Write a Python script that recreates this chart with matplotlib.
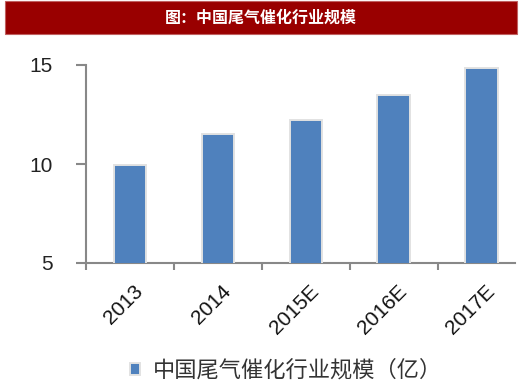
import matplotlib
matplotlib.use('Agg')
import matplotlib.pyplot as plt
from matplotlib.patches import Rectangle

plt.rcParams['font.family'] = ['Liberation Sans', 'Noto Sans CJK SC', 'DejaVu Sans']

# Data
years = ['2013', '2014', '2015E', '2016E', '2017E']
market_size = [9.95, 11.5, 12.2, 13.5, 14.85]
y_ticks = [5, 10, 15]

title = '图：中国尾气催化行业规模'
series_name = '中国尾气催化行业规模（亿）'

W, H = 520, 392
fig = plt.figure(figsize=(W / 100, H / 100), dpi=100)

# red title band
fig.patches.append(Rectangle((5 / W, 1 - 34 / H), 512 / W, 33 / H,
                             transform=fig.transFigure, facecolor='#990000',
                             edgecolor='#c06060', linewidth=0.8))
fig.text(261 / W, 1 - 18 / H, title, color='white', fontsize=11.5,
         fontweight='bold', ha='center', va='center',
         family=['Noto Sans CJK SC', 'DejaVu Sans'])

ax = fig.add_axes([86 / W, 1 - 263 / H, (515 - 86) / W, (263 - 65) / H])
x = range(len(years))
bars = ax.bar(x, market_size, width=0.37, color='#4F81BD',
              edgecolor='#e2e2e2', linewidth=1.4, label=series_name, zorder=3)

ax.set_ylim(5, 15)
ax.set_xlim(-0.5, 4.38)
ax.set_yticks(y_ticks)
ax.set_yticklabels([str(t) for t in y_ticks], fontsize=15, color='#222222')
ax.set_xticks([i - 0.5 for i in x])
ax.set_xticklabels([''] * len(years))
ax.tick_params(axis='y', length=7, width=1.5, color='#888888', pad=17)
ax.tick_params(axis='x', length=5, width=1.5, color='#888888')
for i, lab in enumerate(years):
    ax.text(i + 0.04, -0.095, lab, rotation=45, ha='right', va='top',
            fontsize=15, rotation_mode='anchor', color='#111111',
            transform=ax.get_xaxis_transform())

for s in ['top', 'right']:
    ax.spines[s].set_visible(False)
for s in ['left', 'bottom']:
    ax.spines[s].set_color('#888888')
    ax.spines[s].set_linewidth(1.5)

leg = fig.legend(handles=[bars], labels=[series_name], loc='center',
                 bbox_to_anchor=(286 / W, 1 - 370 / H), frameon=False,
                 prop={'family': ['Noto Sans CJK SC'], 'size': 16},
                 handlelength=0.45, handleheight=0.45, handletextpad=0.6)
for t in leg.get_texts():
    t.set_color('#333333')

fig.savefig('out.png', dpi=100)
